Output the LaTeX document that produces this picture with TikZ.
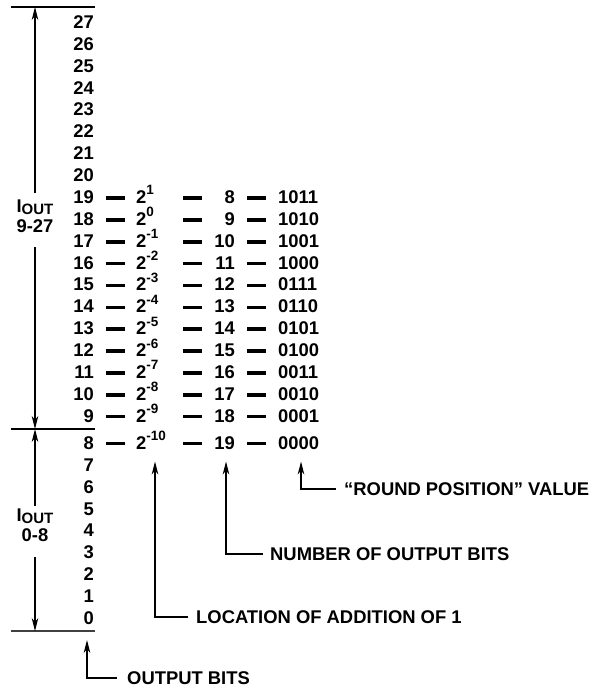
\documentclass[tikz,border=0pt]{standalone}
\usepackage{fontspec}
\setmainfont{Liberation Sans}
\usetikzlibrary{arrows.meta}

% power of two with raised exponent
\newcommand{\pwr}[1]{2\raisebox{8.5pt}{\fontsize{13.5}{14}\selectfont #1}}
\newcommand{\iout}{I\raisebox{-2pt}{\fontsize{15}{15}\selectfont OUT}}

\tikzset{
  every node/.style={font=\bfseries\fontsize{18.4}{20}\selectfont, inner sep=0pt},
  bar/.style={line width=3.6pt},
  rule/.style={line width=1.3pt},
  arr/.style={line width=1.1pt, -{Stealth[length=13pt,width=6.5pt,inset=4pt]}},
}

\begin{document}
\begin{tikzpicture}[x=1pt, y=-1pt]
	\useasboundingbox (0,0) rectangle (600,687);

	% output bit numbers
	\foreach \n in {9,...,27}
		\node[anchor=base east] (b\n) at (94, {28.5+(27-\n)*21.87}) {\n};
	\node[anchor=base east] (b8) at (94, 449) {8};
	\foreach \n in {0,...,7}
		\node[anchor=base east] (b\n) at (94, {624.5-\n*21.9}) {\n};

	% rows of the rounding table
	\foreach \n/\bits in {19/1011,18/1010,17/1001,16/1000,15/0111,14/0110,13/0101,12/0100,11/0011,10/0010,9/0001,8/0000}{
		\pgfmathtruncatemacro{\ex}{\n-18}
		\pgfmathtruncatemacro{\nb}{27-\n}
		\node[anchor=base west] (p\n) at ([xshift=42pt]b\n.base east) {\pwr{\ex}};
		\node[anchor=base east] (c\n) at ([xshift=141pt]b\n.base east) {\nb};
		\node[anchor=base west] (r\n) at ([xshift=184pt]b\n.base east) {\bits};
		\draw[bar] ([xshift=12pt,yshift=5.5pt]b\n.base east) -- ++(19,0);
		\draw[bar] ([xshift=89pt,yshift=5.5pt]b\n.base east) -- ++(19,0);
		\draw[bar] ([xshift=153pt,yshift=5.5pt]b\n.base east) -- ++(19,0);
	}

	% range lines
	\draw[rule] (11,7) -- (95,7);
	\draw[rule] (11,429) -- (95,429);
	\draw[rule, line width=1.8pt, black!75] (11,631) -- (95,631);

	\coordinate (top) at (35,7);
	\coordinate (mid) at (35,429);
	\coordinate (bot) at (35,631);

	% range labels and arrows
	\node[align=center] (hi) at (35,216.7) {\iout\\9-27};
	\node[align=center] (lo) at (35,525.5) {\iout\\0-8};
	\draw[arr] ([yshift=7pt]hi.north) -- (top);
	\draw[arr] ([yshift=-14pt]hi.south) -- (mid);
	\draw[arr] ([yshift=3pt]lo.north) -- (mid);
	\draw[arr] ([yshift=-15pt]lo.south) -- (bot);

	% callouts
	\node[anchor=west] (loc) at (196,617) {LOCATION OF ADDITION OF 1};
	\node[anchor=west] (nob) at (270,554) {NUMBER OF OUTPUT BITS};
	\node[anchor=west] (rpv) at (344,489) {“ROUND POSITION” VALUE};
	\node[anchor=west] (obits) at (127,678) {OUTPUT BITS};

	\coordinate (locTip) at (155,461.5);
	\coordinate (nobTip) at (226,461.5);
	\coordinate (rpvTip) at (301,461.5);
	\coordinate (obitsTip) at (87,640);

	\draw[arr] ([xshift=-8pt]loc.west) -| (locTip);
	\draw[arr] ([xshift=-7pt]nob.west) -| (nobTip);
	\draw[arr] ([xshift=-8pt]rpv.west) -| (rpvTip);
	\draw[arr] ([xshift=-10pt]obits.west) -| (obitsTip);

\end{tikzpicture}
\end{document}
